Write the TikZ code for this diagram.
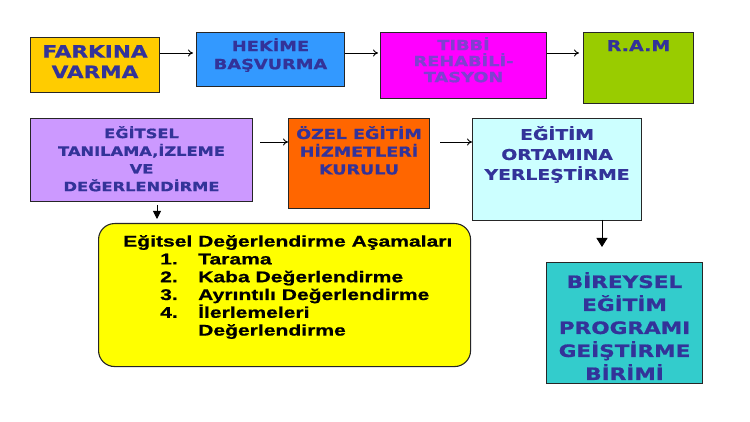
\documentclass[tikz,border=0pt]{standalone}
\usepackage{fontspec}
\setmainfont{DejaVu Sans}[FakeStretch=1.27,BoldFeatures={FakeBold=1}]
\newfontfamily\arialb{Liberation Sans}[FakeStretch=1.36,BoldFeatures={FakeBold=0.8}]
\usetikzlibrary{arrows.meta}
\definecolor{cgold}{HTML}{FFCC00}
\definecolor{cblue}{HTML}{3399FF}
\definecolor{cmag}{HTML}{FF00FF}
\definecolor{cgreen}{HTML}{99CC00}
\definecolor{clav}{HTML}{CC99FF}
\definecolor{corange}{HTML}{FF6600}
\definecolor{ccyan}{HTML}{CCFFFF}
\definecolor{cteal}{HTML}{33CCCC}
\definecolor{cyel}{HTML}{FFFF00}
\definecolor{ctext}{HTML}{333399}
\definecolor{ctextm}{HTML}{8040D0}
\begin{document}
\begin{tikzpicture}[x=1pt,y=-1pt,
  box/.style={draw=black!85,line width=1.1pt,inner sep=0pt,anchor=north west},
  lbl/.style={text=ctext,align=center,anchor=north,inner sep=0pt},
  harr/.style={-{To[length=5pt,width=7pt]},line width=0.9pt},
  varr/.style={-{Triangle[length=8pt,width=8pt]},line width=0.9pt},
  varrb/.style={-{Triangle[length=9pt,width=11pt]},line width=0.9pt}]
\useasboundingbox[fill=white] (0,0) rectangle (750,422);
% row 1
\node[box,fill=cgold,minimum width=129pt,minimum height=55pt] (b1) at (30,37) {};
\node[box,fill=cblue,minimum width=148pt,minimum height=54pt] (b2) at (196,32) {};
\node[box,fill=cmag,minimum width=166pt,minimum height=66pt] (b3) at (380,32) {};
\node[box,fill=cgreen,minimum width=110pt,minimum height=71pt] (b4) at (583,32) {};
% row 2
\node[box,fill=clav,minimum width=222pt,minimum height=83pt] (b5) at (30,118) {};
\node[box,fill=corange,minimum width=141pt,minimum height=90pt] (b6) at (288,118) {};
\node[box,fill=ccyan,minimum width=169pt,minimum height=102pt] (b7) at (472,118) {};
\node[box,fill=cteal,minimum width=156pt,minimum height=121pt] (b8) at (546,262) {};
\node[box,fill=cyel,rounded corners=16pt,minimum width=372pt,minimum height=143pt] (b9) at (98,223) {};
% labels
\node[lbl,font=\fontsize{17}{20.5}\selectfont\bfseries] (t1) at ([yshift=-8pt]b1.north) {FARKINA\\VARMA};
\node[lbl,font=\fontsize{14}{18}\selectfont\bfseries] (t2) at ([yshift=-6pt]b2.north) {HEKİME\\BAŞVURMA};
\node[lbl,text=ctextm,font=\fontsize{14}{16}\selectfont\bfseries] (t3) at ([yshift=-5pt]b3.north) {TIBBİ\\REHABİLİ-\\TASYON};
\node[lbl,font=\fontsize{15}{18}\selectfont\bfseries] (t4) at ([yshift=-8pt]b4.north) {R.A.M};
\node[lbl,font=\fontsize{12.8}{17.7}\selectfont\bfseries] (t5) at ([yshift=-8pt]b5.north) {EĞİTSEL\\TANILAMA,İZLEME\\VE\\DEĞERLENDİRME};
\node[lbl,font=\fontsize{13.8}{17.7}\selectfont\bfseries] (t6) at ([yshift=-8pt]b6.north) {ÖZEL EĞİTİM\\HİZMETLERİ\\KURULU};
\node[lbl,font=\fontsize{14.8}{20}\selectfont\bfseries] (t7) at ([yshift=-8pt]b7.north) {EĞİTİM\\ORTAMINA\\YERLEŞTİRME};
\node[lbl,font=\fontsize{17}{23}\selectfont\bfseries] (t8) at ([yshift=-10pt]b8.north) {BİREYSEL\\EĞİTİM\\PROGRAMI\\GEİŞTİRME\\BİRİMİ};
\node[anchor=north west,inner sep=0pt,align=left,font=\arialb\fontsize{15.5}{17.8}\selectfont\bfseries] (t9) at (123,235)
 {Eğitsel Değerlendirme Aşamaları\\
  \hspace*{37pt}\makebox[38pt][l]{1.}Tarama\\
  \hspace*{37pt}\makebox[38pt][l]{2.}Kaba Değerlendirme\\
  \hspace*{37pt}\makebox[38pt][l]{3.}Ayrıntılı Değerlendirme\\
  \hspace*{37pt}\makebox[38pt][l]{4.}İlerlemeleri\\
  \hspace*{75pt}Değerlendirme};
% arrows
\coordinate (a1) at (b1.east |- 0,53);
\coordinate (a2) at (193,53);
\draw[harr] (a1) -- (a2);
\coordinate (a3) at (b2.east |- 0,53);
\coordinate (a4) at (378,53);
\draw[harr] (a3) -- (a4);
\coordinate (a5) at (b3.east |- 0,53);
\coordinate (a6) at (579,53);
\draw[harr] (a5) -- (a6);
\coordinate (a7) at (260,142);
\coordinate (a8) at (b6.west |- 0,142);
\draw[harr] (a7) -- (a8);
\coordinate (a9) at (440,142);
\coordinate (a10) at (b7.west |- 0,142);
\draw[harr] (a9) -- (a10);
\coordinate (d1) at (157,205);
\coordinate (d2) at (157,219);
\draw[varr] (d1) -- (d2);
\coordinate (d3) at (602,220);
\coordinate (d4) at (602,247);
\draw[varrb] (d3) -- (d4);
\end{tikzpicture}
\end{document}
